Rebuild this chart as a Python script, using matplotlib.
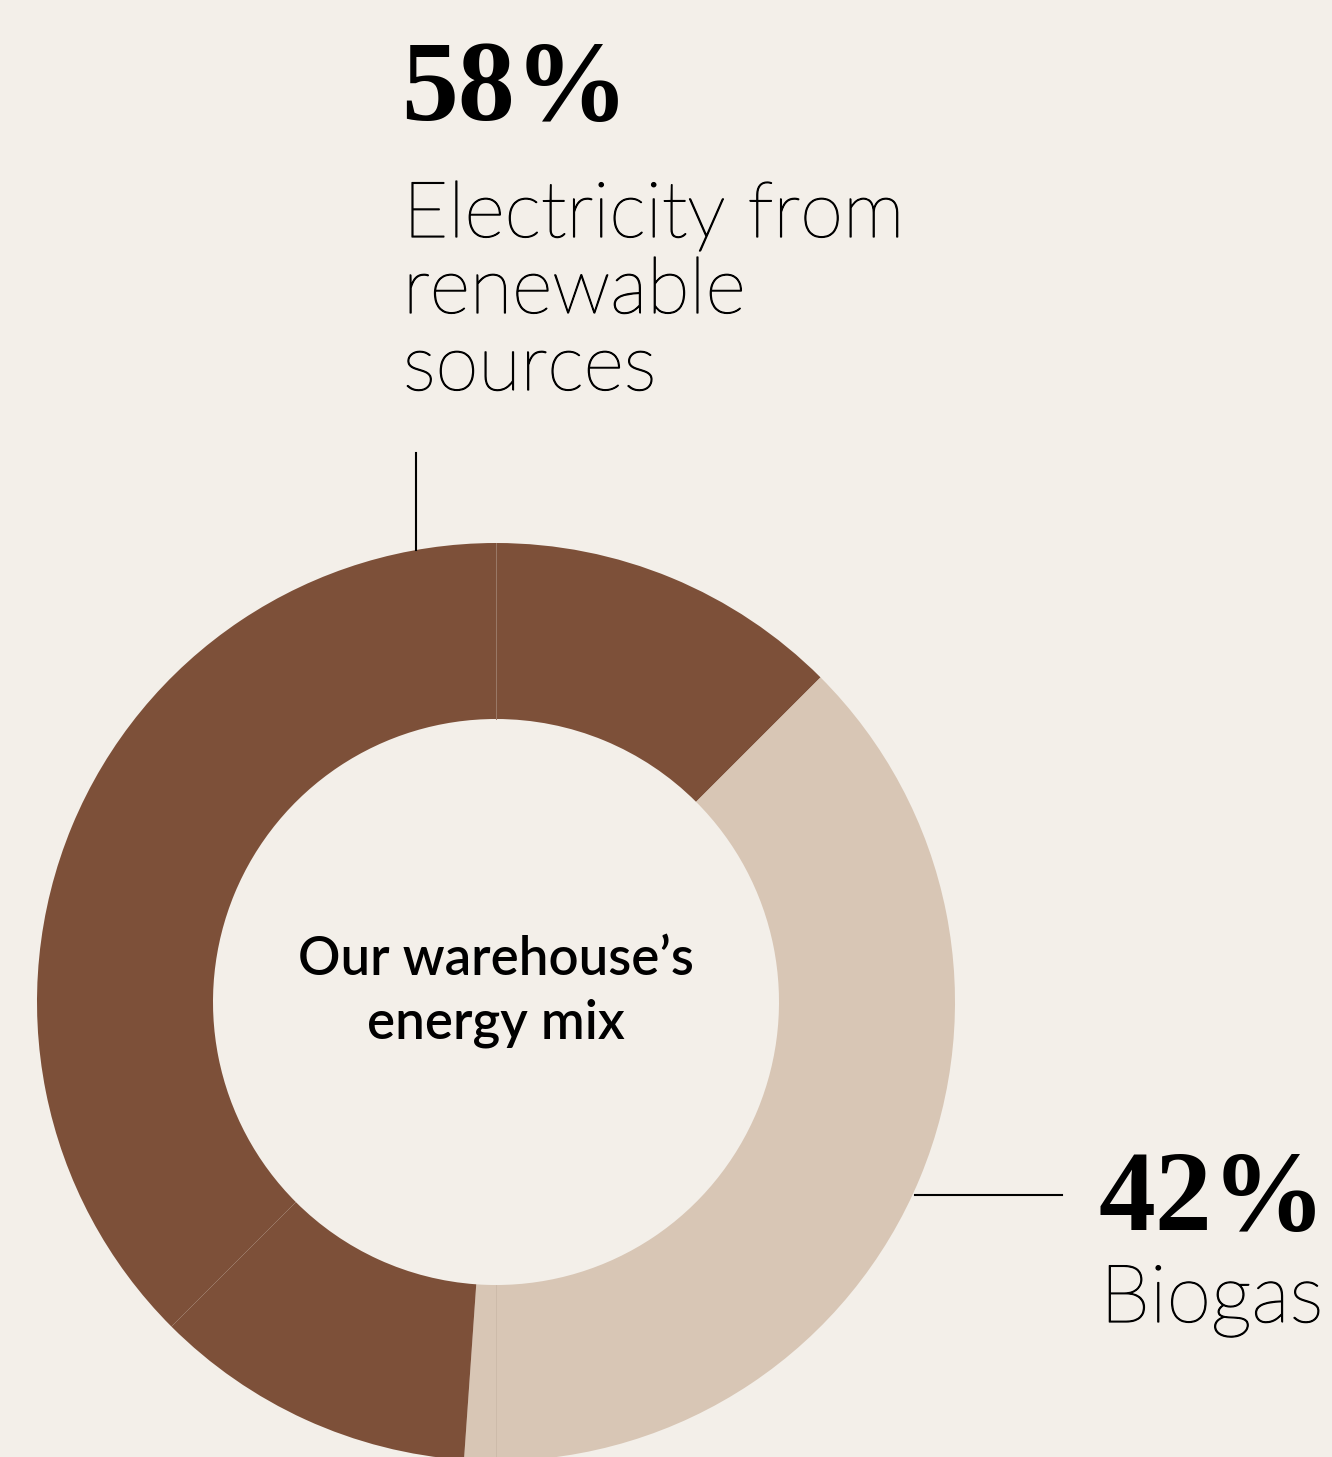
import matplotlib.pyplot as plt
import matplotlib.patheffects as pe

# shares shown in the labels
shares = [58, 42]
share_labels = ['58%', '42%']
name_lines = [['Electricity from', 'renewable', 'sources'], ['Biogas']]
centre_lines = ['Our warehouse\u2019s', 'energy mix']

# ring pieces as drawn (degrees, clockwise from 12 o'clock)
arc_sizes = [45, 135, 4, 41, 135]
arc_kind = [0, 1, 1, 0, 0]  # 0 = renewables, 1 = biogas

brown = '#7D5039'
beige = '#D8C6B5'
bg = '#F3EFE9'

W, H = 1332, 1457
fig = plt.figure(figsize=(W / 100, H / 100), dpi=100, facecolor=bg)
ax = fig.add_axes([0, 0, 1, 1])
ax.set_facecolor(bg)

cx, cy = 496, H - 1002
r_out, ring = 459, 176

ax.pie(arc_sizes, colors=[[brown, beige][k] for k in arc_kind],
       startangle=90, counterclock=False, center=(cx, cy), radius=r_out,
       wedgeprops=dict(width=ring, linewidth=0, antialiased=True),
       frame=True)
ax.set_xlim(0, W)
ax.set_ylim(0, H)
ax.set_aspect('equal')
ax.axis('off')

# faint seams where the pieces meet at 12 and 6 o'clock
ax.plot([cx, cx], [cy + r_out - ring, cy + r_out], color='#9A7A68', lw=0.7)
ax.plot([cx, cx], [cy - r_out, cy - r_out + ring], color='#CDBBAA', lw=0.7)

# centre title
for y, line in zip([975, 1038], centre_lines):
    ax.text(cx, H - y, line, ha='center', va='baseline', fontsize=38,
            family='Lato', fontweight='semibold', color='black')

# leader lines
ax.plot([416, 416], [H - 453, H - 550], color='black', lw=1.5)
ax.plot([915, 1062], [H - 1195, H - 1195], color='black', lw=1.5)

thicken = [pe.withStroke(linewidth=0.9, foreground='black')]

# 58% label
ax.text(401, H - 120, share_labels[0], ha='left', va='baseline', fontsize=82,
        family='Liberation Serif', fontweight='bold', color='black')
for y, line in zip([237, 313, 390], name_lines[0]):
    ax.text(403, H - y, line, ha='left', va='baseline', fontsize=56,
            family='Lato', fontweight='light', color='black',
            path_effects=thicken)

# 42% label
ax.text(1098, H - 1230, share_labels[1], ha='left', va='baseline', fontsize=82,
        family='Liberation Serif', fontweight='bold', color='black')
ax.text(1100, H - 1322, name_lines[1][0], ha='left', va='baseline', fontsize=58,
        family='Lato', fontweight='light', color='black', path_effects=thicken)

fig.savefig('out.png', dpi=100, facecolor=bg)
